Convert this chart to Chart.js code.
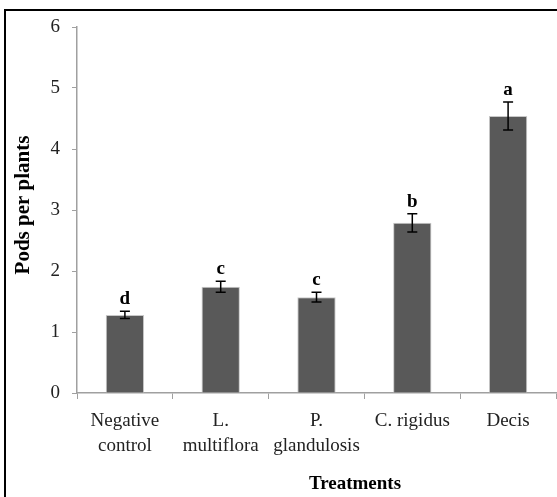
<!DOCTYPE html>
<html>
<head>
<meta charset="utf-8">
<script src="https://cdn.jsdelivr.net/npm/chart.js@4"></script>
<style>
  body { margin: 0; background: #fff; }
  #wrap { width: 557px; height: 497px; }
</style>
</head>
<body>
<div id="wrap"><canvas id="pods-canvas" width="557" height="497"></canvas></div>
<script>
const treatments = [['Negative', 'control'], ['L.', 'multiflora'], ['P.', 'glandulosis'], 'C. rigidus', 'Decis']
const podsPerPlant = [1.28, 1.74, 1.57, 2.79, 4.54]
const podsError = [0.06, 0.09, 0.08, 0.15, 0.23]
const groupLetters = ['d', 'c', 'c', 'b', 'a']
const yTicks = [0, 1, 2, 3, 4, 5, 6]

const serif = '"Liberation Serif", "Times New Roman", serif'
const axisGray = '#a0a0a0'

// error bars, letters, titles and the frame round the figure
const extras = {
  id: 'extras',
  afterDatasetsDraw(chart) {
    const ctx = chart.ctx
    const x = chart.scales.x
    const y = chart.scales.y
    ctx.save()
    ctx.strokeStyle = '#000'
    ctx.lineWidth = 1.5
    podsPerPlant.forEach((v, i) => {
      const cx = x.getPixelForValue(i)
      const top = y.getPixelForValue(v + podsError[i])
      const bottom = y.getPixelForValue(v - podsError[i])
      ctx.beginPath()
      ctx.moveTo(cx, top); ctx.lineTo(cx, bottom)
      ctx.moveTo(cx - 5, top); ctx.lineTo(cx + 5, top)
      ctx.moveTo(cx - 5, bottom); ctx.lineTo(cx + 5, bottom)
      ctx.stroke()

      ctx.fillStyle = '#000'
      ctx.font = 'bold 19px ' + serif
      ctx.textAlign = 'center'
      ctx.textBaseline = 'alphabetic'
      ctx.fillText(groupLetters[i], cx, top - 7)
    })

    ctx.font = 'bold 19px ' + serif
    ctx.textAlign = 'center'
    ctx.textBaseline = 'middle'
    ctx.fillText('Treatments', 355, 484)

    ctx.font = 'bold 21px ' + serif
    ctx.translate(24, 205)
    ctx.rotate(-Math.PI / 2)
    ctx.fillText('Pods per plants', 0, 0)
    ctx.restore()

    ctx.save()
    ctx.strokeStyle = '#000'
    ctx.lineWidth = 2
    ctx.beginPath()
    ctx.moveTo(5, 497); ctx.lineTo(5, 10); ctx.lineTo(557, 10)
    ctx.stroke()
    ctx.restore()
  }
}

new Chart(document.querySelector('#pods-canvas'), {
  type: 'bar',
  data: {
    labels: treatments,
    datasets: [{
      data: podsPerPlant,
      backgroundColor: '#595959',
      borderColor: '#c8c8c8',
      borderWidth: 1,
      barPercentage: 0.4,
      categoryPercentage: 1
    }]
  },
  options: {
    responsive: false,
    animation: false,
    layout: { padding: { top: 27, right: 1, left: 0, bottom: 0 } },
    plugins: {
      legend: { display: false },
      tooltip: { enabled: false }
    },
    scales: {
      x: {
        grid: { drawOnChartArea: false, color: axisGray, tickLength: 6, offset: true },
        border: { color: axisGray, width: 1.5 },
        ticks: {
          color: '#222',
          font: { family: serif, size: 19, lineHeight: 1.3 },
          padding: 10,
          maxRotation: 0,
          autoSkip: false
        },
        afterFit(scale) { scale.height = 104 }
      },
      y: {
        min: 0,
        max: 6,
        afterBuildTicks(scale) { scale.ticks = yTicks.map(v => ({ value: v })) },
        grid: { drawOnChartArea: false, color: axisGray, tickLength: 5 },
        border: { color: axisGray, width: 1.5 },
        ticks: {
          color: '#222',
          font: { family: serif, size: 19 },
          padding: 12
        },
        afterFit(scale) { scale.width = 77 }
      }
    }
  },
  plugins: [extras]
})
</script>
</body>
</html>
